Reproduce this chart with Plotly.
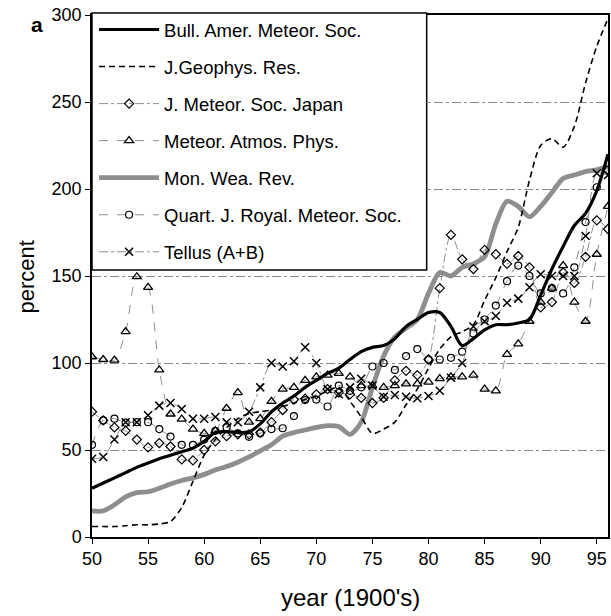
import plotly.graph_objects as go

years = list(range(50, 97))

bull_amer = [28, 31, 34, 37, 40, 42.5, 45, 47, 49, 51,
             55, 60, 60.5, 60, 60.5, 65, 72, 77, 81, 86,
             90, 94, 97, 102, 106.5, 109, 110, 114, 121, 125,
             129, 129, 121, 110, 114, 119, 122, 122, 123, 125,
             139, 154, 167, 179, 186, 199, 220]

j_geophys = [6, 6, 6, 6.5, 7, 7, 7.5, 9, 17, 32,
             47, 56, 63, 68, 71, 72, 73, 75, 77, 79,
             81, 84, 86, 78, 69, 59.5, 62, 66, 76, 85,
             97, 108, 115, 118, 122, 136, 149, 164, 178, 205,
             225, 229, 224, 236, 261, 282, 298]

j_meteor_japan = [72, 67, 63, 61, 56, 51.5, 54, 52, 44.6, 44,
                  50, 55, 58, 59, 59, 60, 66, 73, 79, 79.5,
                  82, 85, 83, 82, 80, 77, 80, 90, 95.5, 93,
                  102, 143, 173.6, 159.6, 154, 165, 162.5, 157, 161.5, 155,
                  132, 135, 152, 146, 161, 182, 177]

meteor_atmos = [103.6, 102, 101.7, 118, 149.6, 143.5, 96, 70.7, 67.8, 62,
                59.6, 61, 74, 83, 66, 68, 78, 85, 86, 90,
                92, 93, 94, 92, 87, 87, 86, 87, 88, 88,
                89, 91, 92, 92, 93, 85, 84, 105, 111, 124,
                135, 143, 156, 135, 124, 162.5, 190]

mon_wea = [15, 15, 18.5, 23, 25.5, 26, 28, 30.5, 32.5, 34,
           36, 38.5, 40.5, 43, 46, 49.5, 53, 58, 60, 61.5,
           63, 64, 63.5, 59, 66, 86, 104, 115, 120, 125,
           140, 152, 150, 155, 157, 161, 180, 193, 190, 184,
           190, 198, 206, 208, 210, 211, 213]

quart_royal = [53, 67, 68, 65.7, 66, 66, 62, 57.7, 53, 53,
               56, 61, 63, 59.6, 57.6, 59.6, 62, 62.5, 69.5, 78.7,
               79, 75, 87, 84, 86, 98, 100, 96, 104, 108,
               102, 102, 103, 106.5, 117, 125, 133, 147, 156, 150,
               140, 143, 140, 155, 181, 201, 211]

tellus = [45, 46, 56, 66, 66, 70, 75.5, 77, 73.6, 68,
          68, 69, 66, 66, 72, 86, 100, 98, 101, 109,
          100, 85, 82, 86, 91, 87, 80.6, 81.6, 80.6, 79.7,
          81, 84, 91.5, 100, 121, 124, 127, 134.6, 137, 143.5,
          151, 150, 150, 150, 173, 209, 208]

y_ticks = [0, 50, 100, 150, 200, 250, 300]
x_ticks = [50, 55, 60, 65, 70, 75, 80, 85, 90, 95]

FONT = "Arial, Liberation Sans, sans-serif"

fig = go.Figure()

def add(name, y, rank, line, marker=None):
    mode = "lines+markers" if marker else "lines"
    kw = dict(x=years, y=y, name=name, mode=mode, legendrank=rank,
              legendgroup=name, line=dict(shape="spline", smoothing=0.8, **line))
    if marker:
        kw["marker"] = marker
    fig.add_trace(go.Scatter(**kw))

# drawing order: thick gray first, marker series, then black lines on top
add("Mon. Wea. Rev.", mon_wea, 5, dict(color="#8e8e8e", width=4.8))
add("J. Meteor. Soc. Japan", j_meteor_japan, 3,
    dict(color="#808080", width=0.9, dash="dashdot"),
    dict(symbol="diamond-open", size=7, color="black", line=dict(width=1.2, color="black")))
add("Meteor. Atmos. Phys.", meteor_atmos, 4,
    dict(color="#808080", width=0.9, dash="dash"),
    dict(symbol="triangle-up-open", size=8, color="black", line=dict(width=1.3, color="black")))
add("Quart. J. Royal. Meteor. Soc.", quart_royal, 6,
    dict(color="#808080", width=0.9, dash="dash"),
    dict(symbol="circle-open", size=7, color="black", line=dict(width=1.2, color="black")))
add("Tellus (A+B)", tellus, 7,
    dict(color="#808080", width=0.9, dash="dashdot"),
    dict(symbol="x-thin", size=8, color="black", line=dict(width=1.5, color="black")))
add("J.Geophys. Res.", j_geophys, 2, dict(color="black", width=1.6, dash="6px,4px"))
add("Bull. Amer. Meteor. Soc.", bull_amer, 1, dict(color="black", width=3.2))

fig.update_layout(
    width=611, height=616,
    margin=dict(l=92, r=1, t=15, b=79),
    paper_bgcolor="white", plot_bgcolor="white",
    font=dict(family=FONT, size=18, color="black"),
    showlegend=True,
    legend=dict(x=0.004, y=1.0077, xanchor="left", yanchor="top",
                bgcolor="rgba(0,0,0,0)", borderwidth=0,
                font=dict(family=FONT, size=18.5, color="black"),
                itemwidth=60, tracegroupgap=10, traceorder="grouped",
                itemsizing="trace"),
    shapes=[dict(type="rect", xref="paper", yref="paper",
                 x0=0, x1=0.6486, y0=0.5115, y1=1.0038,
                 fillcolor="white", line=dict(color="black", width=1.5),
                 layer="above")],
    xaxis=dict(range=[50, 96], tickvals=x_ticks, ticktext=[str(v) for v in x_ticks],
               showgrid=False, zeroline=False,
               showline=True, linecolor="black", linewidth=1.5, mirror=True,
               ticks="outside", ticklen=5, tickcolor="black", tickwidth=1,
               tickfont=dict(family=FONT, size=18)),
    yaxis=dict(range=[0, 300], tickvals=y_ticks, ticktext=[str(v) for v in y_ticks],
               showgrid=True, gridcolor="#8a8a8a", gridwidth=1, griddash="dashdot",
               zeroline=False,
               showline=True, linecolor="black", linewidth=1.5, mirror=True,
               ticks="outside", ticklen=5, tickcolor="black", tickwidth=1,
               tickfont=dict(family=FONT, size=18)),
    annotations=[
        dict(text="<b>a</b>", xref="paper", yref="paper", x=-0.106, y=0.981,
             xanchor="center", yanchor="middle", showarrow=False,
             font=dict(family=FONT, size=21)),
        dict(text="percent", xref="paper", yref="paper", x=-0.127, y=0.498,
             xanchor="center", yanchor="middle", textangle=-90, showarrow=False,
             font=dict(family=FONT, size=22)),
        dict(text="year (1900's)", xref="paper", yref="paper", x=0.5, y=-0.115,
             xanchor="center", yanchor="middle", showarrow=False,
             font=dict(family=FONT, size=24)),
    ],
)

# remove the default 8px page margin so the figure fills the window exactly
fig.write_html("out.html", config={"displayModeBar": False},
               post_script="document.body.style.margin='0';")
